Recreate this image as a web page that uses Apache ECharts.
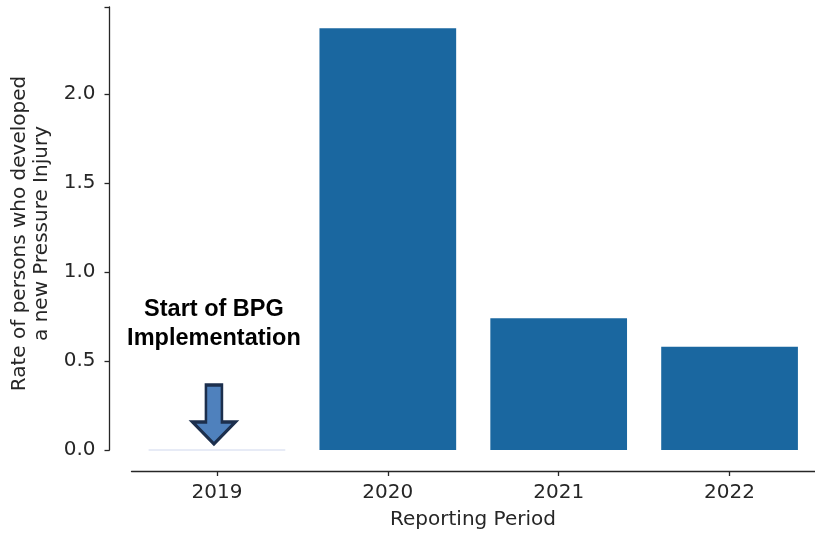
<!DOCTYPE html>
<html>
<head>
<meta charset="utf-8">
<script src="https://cdn.jsdelivr.net/npm/echarts@6/dist/echarts.min.js"></script>
<style>
  html, body { margin: 0; padding: 0; background: #fff; }
  #main { width: 815px; height: 536px; }
</style>
</head>
<body>
<div id="main"></div>
<script>
// data
var periods = ['2019', '2020', '2021', '2022'];
var rates = [0, 2.37, 0.74, 0.58];
var yTicks = [0, 0.5, 1.0, 1.5, 2.0];

var axisColor = '#262626';
var font = 'DejaVu Sans';

var arrowPath = 'path://M13.5,0 L29.5,0 L29.5,37 L43,37 L21.5,59 L0,37 L13.5,37 Z';

var myChart = echarts.init(document.getElementById('main'));
myChart.setOption({
    animation: false,
    // x axis name drawn as a title, the axis name would not go lower
    title: {
        text: 'Reporting Period',
        left: 473,
        top: 510,
        textAlign: 'center',
        padding: 0,
        textStyle: { fontFamily: font, fontSize: 20, fontWeight: 'normal', color: axisColor }
    },
    grid: { left: 131.5, right: -0.5, top: 7, bottom: 86 },
    xAxis: {
        type: 'category',
        data: periods,
        boundaryGap: true,
        offset: 21,
        axisLine: { onZero: false, lineStyle: { color: axisColor, width: 1.3 } },
        axisTick: { show: true, alignWithLabel: true, length: 5, lineStyle: { color: axisColor, width: 1.3 } },
        axisLabel: { fontFamily: font, fontSize: 20, color: axisColor, margin: 12 },
        splitLine: { show: false }
    },
    yAxis: {
        type: 'value',
        min: 0,
        max: 2.49,
        interval: 0.5,
        offset: 22,
        name: 'Rate of persons who developed\na new Pressure Injury',
        nameLocation: 'middle',
        nameGap: 56,
        nameTextStyle: { fontFamily: font, fontSize: 20, color: axisColor, lineHeight: 22, align: 'center', padding: [0, 0, 0, -10] },
        axisLine: { show: true, onZero: false, lineStyle: { color: axisColor, width: 1.3 } },
        axisTick: { show: true, length: 5, lineStyle: { color: axisColor, width: 1.3 } },
        axisLabel: {
            fontFamily: font, fontSize: 20, color: axisColor, margin: 14,
            formatter: function (v) { return yTicks.indexOf(v) >= 0 ? v.toFixed(1) : ''; }
        },
        splitLine: { show: false }
    },
    series: [{
        type: 'bar',
        barWidth: '80%',
        data: rates.map(function (v, i) {
            if (i === 0) {
                return { value: v, itemStyle: { color: '#dfe5f4', borderColor: '#dfe5f4', borderWidth: 1.5 } };
            }
            return v;
        }),
        itemStyle: { color: '#1a67a0' },
        markPoint: {
            silent: true,
            data: [
                {
                    coord: ['2019', 0],
                    symbol: arrowPath,
                    symbolSize: [43, 59],
                    symbolOffset: [-3, -35.5],
                    itemStyle: { color: '#4f81bd', borderColor: '#1c2f4d', borderWidth: 3 },
                    label: { show: false }
                },
                {
                    coord: ['2019', 0],
                    symbol: 'circle',
                    symbolSize: 1,
                    symbolOffset: [-3, -125.5],
                    itemStyle: { color: 'rgba(0,0,0,0)' },
                    label: {
                        show: true,
                        position: 'inside',
                        formatter: 'Start of BPG\nImplementation',
                        fontFamily: 'Liberation Sans',
                        fontWeight: 'bold',
                        fontSize: 23.5,
                        lineHeight: 29,
                        color: '#000',
                        align: 'center'
                    }
                }
            ]
        }
    }]
});
</script>
</body>
</html>
